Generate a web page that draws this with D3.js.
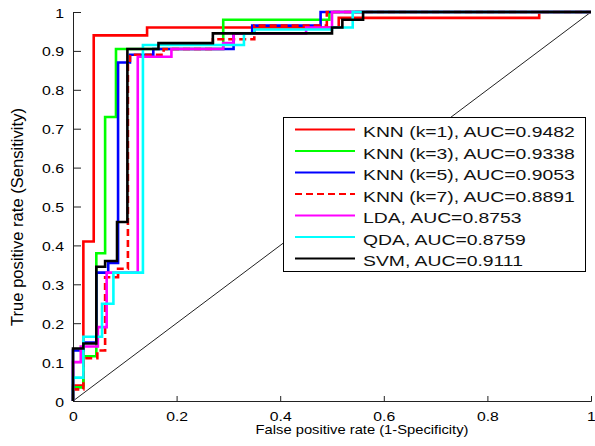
<!DOCTYPE html>
<html>
<head>
<meta charset="utf-8">
<script src="https://cdn.jsdelivr.net/npm/d3@7"></script>
<style>
    body { margin: 0; background: #fff; }
    svg { display: block; font-family: "Liberation Sans", Arial, sans-serif; }
</style>
</head>
<body>
<svg id="roc" width="595" height="446"></svg>
<script>
// ROC curves, one step line per classifier ([FPR, TPR] vertices)

const xTicks = [0, 0.2, 0.4, 0.6, 0.8, 1];
const yTicks = [0, 0.1, 0.2, 0.3, 0.4, 0.5, 0.6, 0.7, 0.8, 0.9, 1];

const seriesNames = [
    'KNN (k=1), AUC=0.9482',
    'KNN (k=3), AUC=0.9338',
    'KNN (k=5), AUC=0.9053',
    'KNN (k=7), AUC=0.8891',
    'LDA, AUC=0.8753',
    'QDA, AUC=0.8759',
    'SVM, AUC=0.9111',
];

const knn1 = [[0,0],[0,0.04],[0.02,0.04],[0.02,0.41],[0.04,0.41],[0.04,0.94],[0.143,0.94],[0.143,0.96],
    [0.513,0.96],[0.513,0.985],[0.9,0.985],[0.9,1],[1,1]];
const knn3 = [[0,0],[0,0.035],[0.02,0.035],[0.02,0.115],[0.045,0.115],[0.045,0.38],[0.062,0.38],[0.062,0.73],
    [0.083,0.73],[0.083,0.905],[0.29,0.905],[0.29,0.98],[0.495,0.98],[0.495,1],[1,1]];
const knn5 = [[0,0],[0,0.13],[0.02,0.13],[0.02,0.15],[0.045,0.15],[0.045,0.33],[0.068,0.33],[0.068,0.355],
    [0.087,0.355],[0.087,0.87],[0.11,0.87],[0.11,0.89],[0.155,0.89],[0.155,0.905],[0.31,0.905],[0.31,0.945],
    [0.346,0.945],[0.346,0.965],[0.478,0.965],[0.478,1],[1,1]];
const knn7 = [[0,0],[0,0.03],[0.02,0.03],[0.02,0.11],[0.047,0.11],[0.047,0.13],[0.062,0.13],[0.062,0.318],
    [0.087,0.318],[0.087,0.34],[0.106,0.34],[0.106,0.87],[0.11,0.87],[0.11,0.89],[0.175,0.89],[0.175,0.905],
    [0.27,0.905],[0.27,0.93],[0.35,0.93],[0.35,0.965],[0.49,0.965],[0.49,1],[1,1]];
const lda = [[0,0],[0,0.1],[0.015,0.1],[0.015,0.14],[0.048,0.14],[0.048,0.19],[0.065,0.19],[0.065,0.33],
    [0.125,0.33],[0.125,0.885],[0.19,0.885],[0.19,0.905],[0.29,0.905],[0.29,0.92],[0.31,0.92],[0.31,0.945],
    [0.45,0.945],[0.45,0.96],[0.5,0.96],[0.5,1],[1,1]];
const qda = [[0,0],[0,0.06],[0.02,0.06],[0.02,0.165],[0.056,0.165],[0.056,0.25],[0.078,0.25],[0.078,0.33],
    [0.135,0.33],[0.135,0.915],[0.33,0.915],[0.33,0.945],[0.35,0.945],[0.35,0.955],[0.5,0.955],[0.5,0.96],
    [0.54,0.96],[0.54,1],[1,1]];
const svm = [[0,0],[0,0.135],[0.02,0.135],[0.02,0.148],[0.045,0.148],[0.045,0.345],[0.062,0.345],[0.062,0.36],
    [0.085,0.36],[0.085,0.46],[0.105,0.46],[0.105,0.905],[0.165,0.905],[0.165,0.92],[0.27,0.92],[0.27,0.945],
    [0.5,0.945],[0.5,0.96],[0.52,0.96],[0.52,0.98],[0.56,0.98],[0.56,1],[1,1]];

const seriesData = [knn1, knn3, knn5, knn7, lda, qda, svm];
const colors = ['#ff0000', '#00ff00', '#0000ff', '#ff0000', '#ff00ff', '#00ffff', '#000000'];
const dashes = ['none', 'none', 'none', '7,4', 'none', 'none', 'none'];
const chance = [[0, 0], [1, 1]];

const svg = d3.select('#roc');

const x = d3.scaleLinear().domain([0, 1]).range([73, 591]);
const y = d3.scaleLinear().domain([0, 1]).range([401, 12]);

// axes (MATLAB style: inward ticks, no box)
const xAxis = svg.append('g')
    .attr('transform', `translate(0,${y(0)})`)
    .call(d3.axisBottom(x).tickValues(xTicks).tickSize(-5).tickFormat(d3.format('')));
const yAxis = svg.append('g')
    .attr('transform', `translate(${x(0)},0)`)
    .call(d3.axisLeft(y).tickValues(yTicks).tickSize(-8).tickFormat(d3.format('')));

[xAxis, yAxis].forEach(a => {
    a.select('.domain').attr('stroke', '#222').attr('stroke-width', 1);
    a.selectAll('.tick line').attr('stroke', '#222');
    a.selectAll('.tick text').remove();
});

// tick labels, slightly wide glyphs as in the reference
xAxis.selectAll('.tick').append('text')
    .attr('transform', 'translate(0,20) scale(1.26,1)')
    .attr('text-anchor', 'middle')
    .attr('font-size', '12.5px')
    .attr('fill', '#000')
    .text(d => d3.format('')(d));
yAxis.selectAll('.tick').append('text')
    .attr('transform', 'translate(-9,5) scale(1.22,1)')
    .attr('text-anchor', 'end')
    .attr('font-size', '13px')
    .attr('fill', '#000')
    .text(d => d3.format('')(d));

const line = d3.line().x(d => x(d[0])).y(d => y(d[1]));

// chance diagonal
svg.append('path')
    .attr('d', line(chance))
    .attr('fill', 'none')
    .attr('stroke', '#222')
    .attr('stroke-width', 1);

svg.append('g')
    .selectAll('path')
    .data(seriesData)
    .enter().append('path')
    .attr('d', d => line(d))
    .attr('fill', 'none')
    .attr('stroke', (d, i) => colors[i])
    .attr('stroke-dasharray', (d, i) => dashes[i])
    .attr('stroke-width', 2.6)
    .attr('stroke-linejoin', 'miter');

// axis labels
svg.append('text')
    .attr('transform', 'translate(362,434) scale(1.18,1)')
    .attr('text-anchor', 'middle')
    .attr('font-size', '12.5px')
    .text('False positive rate (1-Specificity)');
svg.append('text')
    .attr('transform', 'translate(23,217) rotate(-90)')
    .attr('text-anchor', 'middle')
    .attr('font-size', '16.6px')
    .text('True positive rate (Sensitivity)');

// legend
const legend = svg.append('g');
legend.append('rect')
    .attr('x', 283.5).attr('y', 117.5)
    .attr('width', 302).attr('height', 154)
    .attr('fill', '#fff')
    .attr('stroke', '#000')
    .attr('stroke-width', 1);

const rowY = d3.scaleLinear().domain([0, 6]).range([129.5, 258.5]);
const row = legend.selectAll('g.row')
    .data(seriesNames)
    .enter().append('g')
    .attr('class', 'row')
    .attr('transform', (d, i) => `translate(0,${rowY(i)})`);

row.append('line')
    .attr('x1', 295).attr('x2', 355)
    .attr('stroke', (d, i) => colors[i])
    .attr('stroke-dasharray', (d, i) => dashes[i])
    .attr('stroke-width', 2.2);

row.append('text')
    .attr('transform', 'translate(363,7.5) scale(1.29,1)')
    .attr('font-size', '15px')
    .attr('fill', '#111')
    .text(d => d);
</script>
</body>
</html>
